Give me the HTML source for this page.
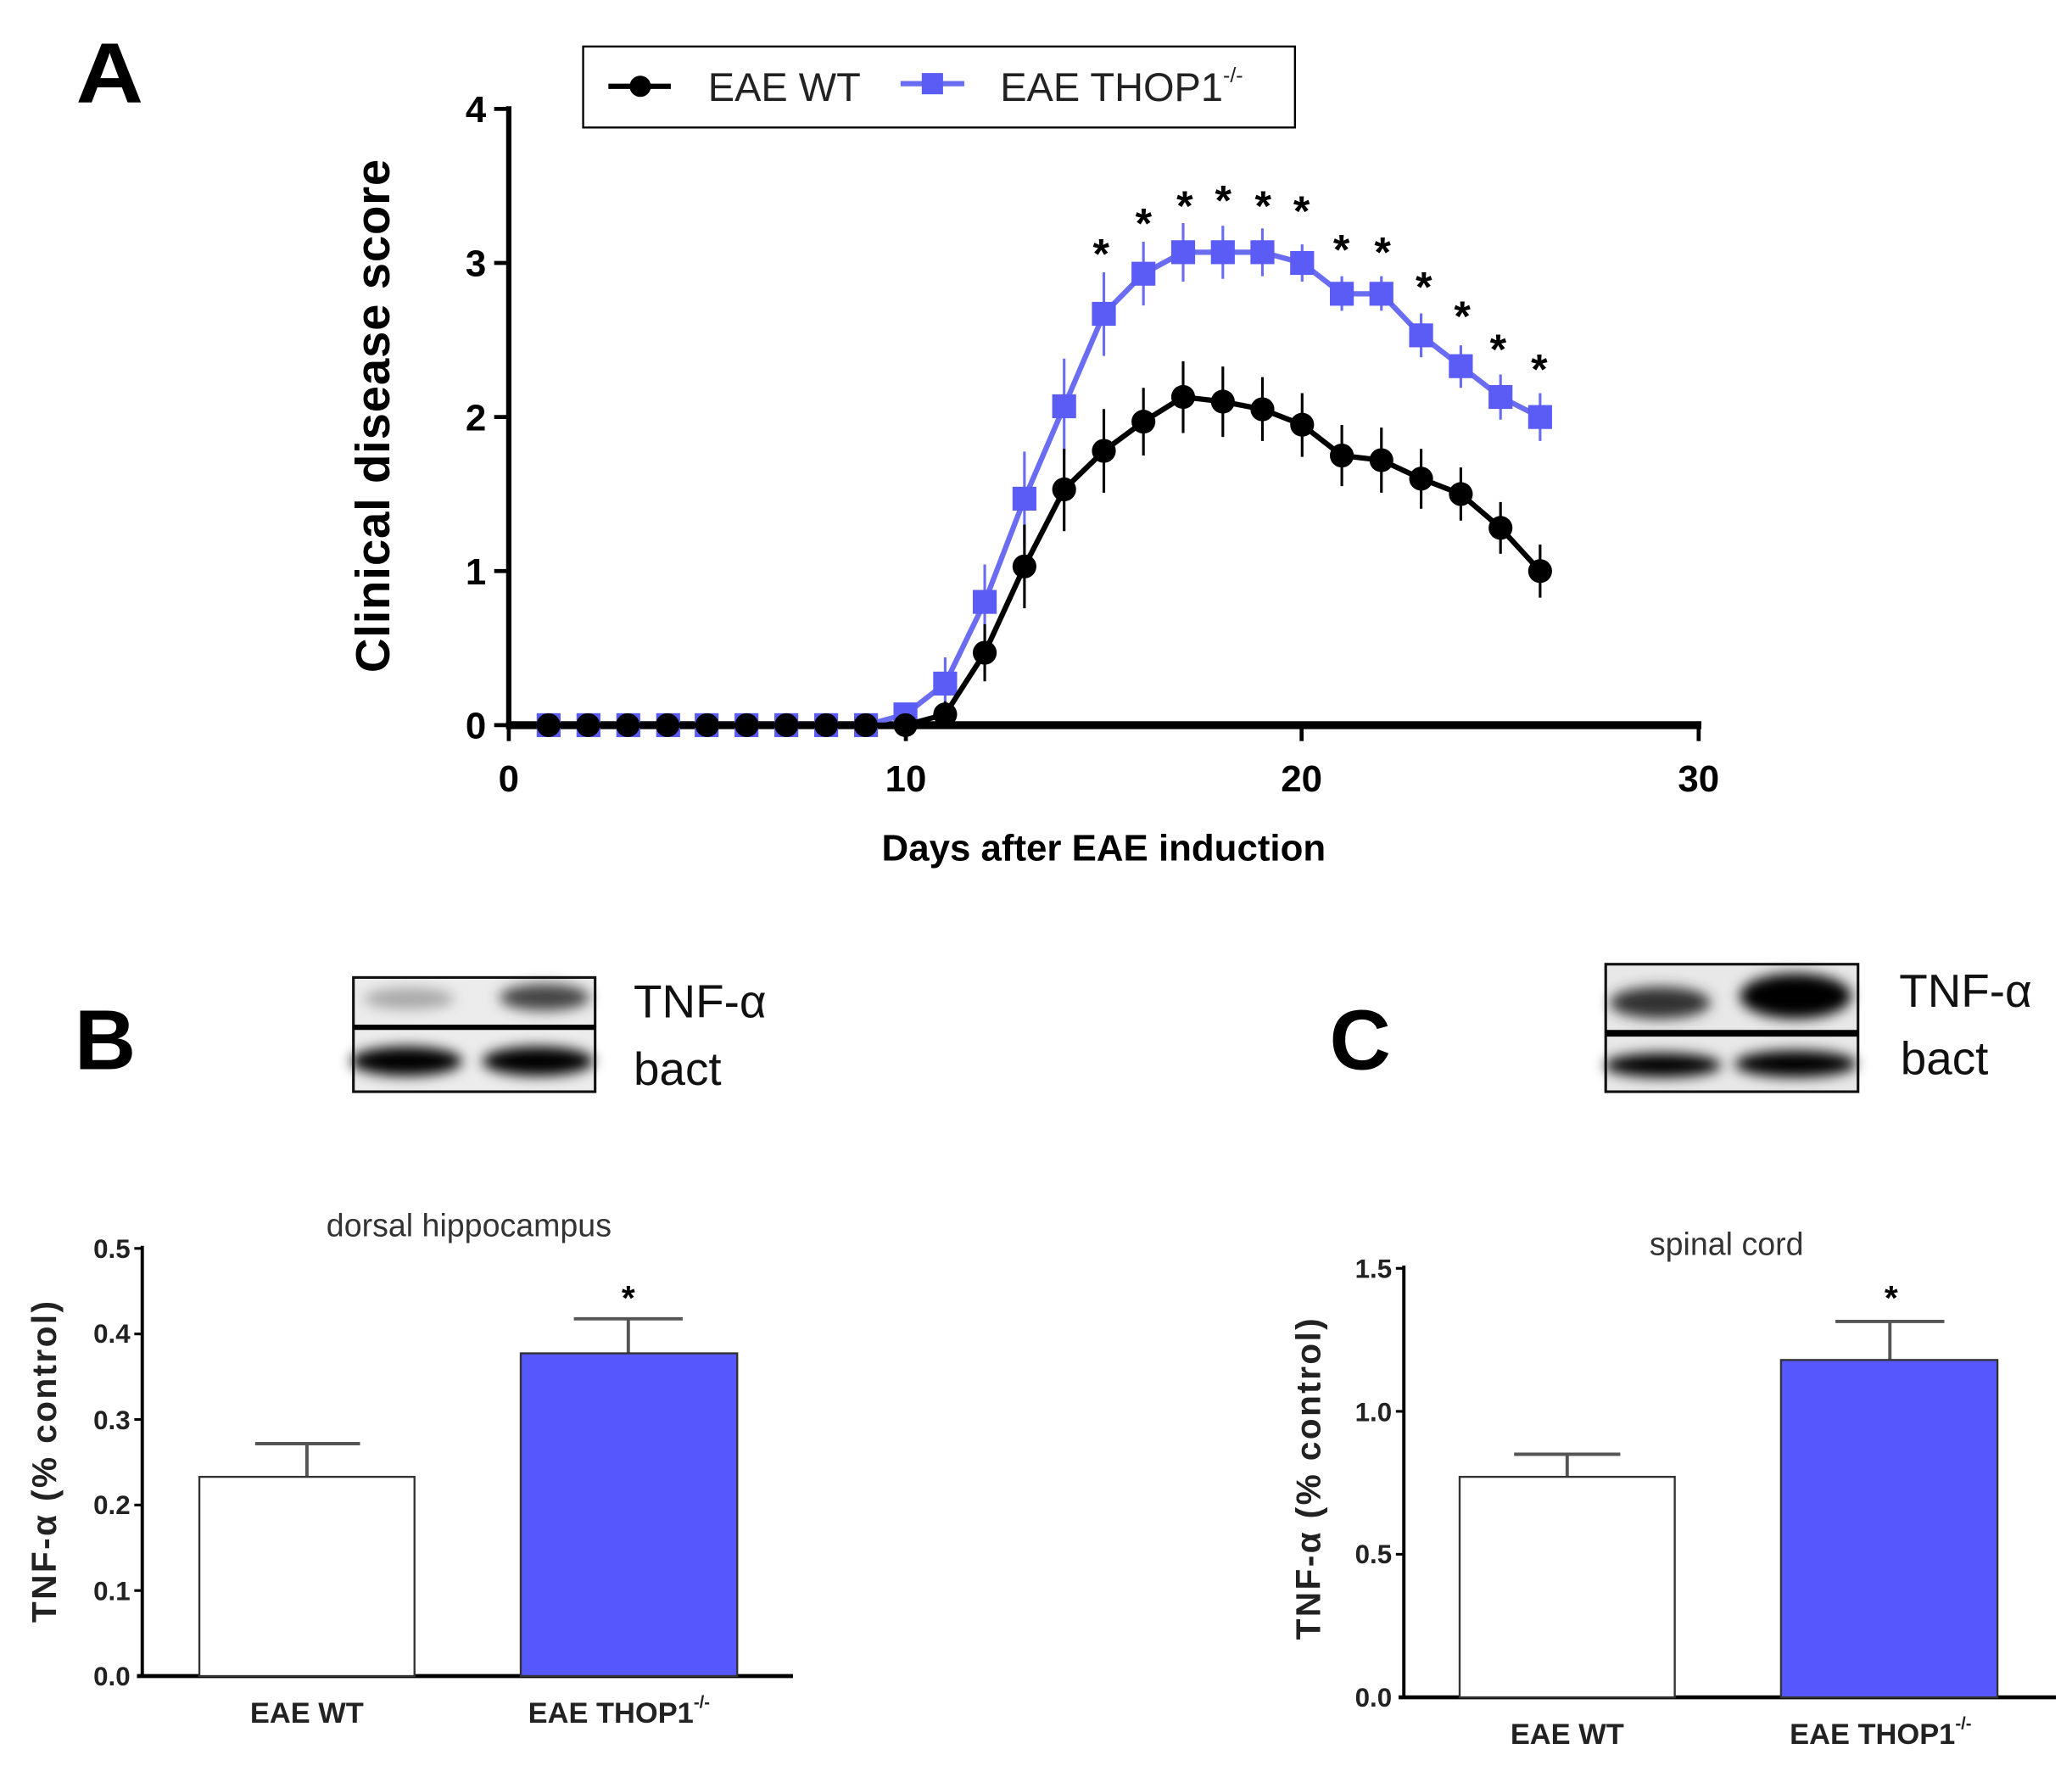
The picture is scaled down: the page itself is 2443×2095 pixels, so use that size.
<!DOCTYPE html>
<html><head><meta charset="utf-8"><style>
html,body{margin:0;padding:0;background:#fff}
svg{display:block}
text{font-family:"Liberation Sans",sans-serif}
</style></head><body>
<svg width="2443" height="2095" viewBox="0 0 1560 1338" xmlns="http://www.w3.org/2000/svg">
<defs>
<filter id="bl" x="-30%" y="-80%" width="160%" height="260%"><feGaussianBlur stdDeviation="5"/></filter>
</defs>
<rect width="1560" height="1338" fill="#fff"/>
<!-- Panel A -->
<text x="57" y="77" font-size="64" font-weight="bold" transform="translate(57 0) scale(1.1 1) translate(-57 0)">A</text>
<rect x="439" y="35" width="536" height="61" fill="#fff" stroke="#000" stroke-width="1.5"/>
<line x1="458" y1="65" x2="505" y2="65" stroke="#000" stroke-width="4"/>
<circle cx="482" cy="65" r="8" fill="#000"/>
<text x="533" y="76" font-size="30" fill="#222">EAE WT</text>
<line x1="678" y1="63" x2="726" y2="63" stroke="#6a6cf2" stroke-width="4"/>
<rect x="694" y="55" width="16" height="16" fill="#5a5cf5"/>
<text x="753" y="76" font-size="30" fill="#222">EAE THOP1<tspan font-size="16" dy="-14">-/-</tspan></text>

<line x1="383" y1="80" x2="383" y2="549" stroke="#000" stroke-width="4"/>
<line x1="381" y1="546" x2="1281" y2="546" stroke="#000" stroke-width="6"/>
<g stroke="#000" stroke-width="3">
<line x1="372" y1="82" x2="383" y2="82"/><line x1="372" y1="198" x2="383" y2="198"/><line x1="372" y1="314" x2="383" y2="314"/><line x1="372" y1="430" x2="383" y2="430"/><line x1="372" y1="546" x2="383" y2="546"/>
<line x1="383" y1="546" x2="383" y2="558"/><line x1="682" y1="546" x2="682" y2="558"/><line x1="980" y1="546" x2="980" y2="558"/><line x1="1279" y1="546" x2="1279" y2="558"/>
</g>
<g font-size="28" font-weight="bold" text-anchor="end">
<text x="366" y="92">4</text><text x="366" y="208">3</text><text x="366" y="324">2</text><text x="366" y="440">1</text><text x="366" y="556">0</text>
</g>
<g font-size="28" font-weight="bold" text-anchor="middle">
<text x="383" y="596">0</text><text x="682" y="596">10</text><text x="980" y="596">20</text><text x="1279" y="596">30</text>
</g>
<text x="831" y="648" font-size="28" font-weight="bold" text-anchor="middle">Days after EAE induction</text>
<text transform="translate(293 313) rotate(-90)" font-size="36" font-weight="bold" text-anchor="middle" letter-spacing="0.5">Clinical disease score</text>

<g stroke="#6a6cf2" stroke-width="2">
<path d="M681.7 530V546M711.6 495V534M741.4 425V481M771.3 340V411M801.2 270V342M831.1 205V268M860.9 182V230M890.8 168V212M920.7 170V210M950.5 172V208M980.4 184V212M1010.3 208V234M1040.1 208V234M1070 236V269M1099.9 260V292M1129.8 282V316M1159.6 296V332"/>
</g>
<polyline fill="none" stroke="#6a6cf2" stroke-width="4" points="412.9,546 442.7,546 472.6,546 502.5,546 532.4,546 562.2,546 592.1,546 622,546 651.8,546 681.7,537.9 711.6,514.7 741.4,453.2 771.3,375.5 801.2,305.9 831.1,236.3 860.9,206.1 890.8,189.9 920.7,189.9 950.5,189.9 980.4,198 1010.3,221.2 1040.1,221.2 1070,252.5 1099.9,275.7 1129.8,298.9 1159.6,314"/>
<g fill="#5a5cf5">
<rect x="404" y="537" width="18" height="18"/><rect x="434" y="537" width="18" height="18"/><rect x="464" y="537" width="18" height="18"/><rect x="494" y="537" width="18" height="18"/><rect x="523" y="537" width="18" height="18"/><rect x="553" y="537" width="18" height="18"/><rect x="583" y="537" width="18" height="18"/><rect x="613" y="537" width="18" height="18"/><rect x="643" y="537" width="18" height="18"/>
<rect x="672.7" y="528.9" width="18" height="18"/><rect x="702.6" y="505.7" width="18" height="18"/><rect x="732.4" y="444.2" width="18" height="18"/><rect x="762.3" y="366.5" width="18" height="18"/><rect x="792.2" y="296.9" width="18" height="18"/><rect x="822.1" y="227.3" width="18" height="18"/><rect x="851.9" y="197.1" width="18" height="18"/><rect x="881.8" y="180.9" width="18" height="18"/><rect x="911.7" y="180.9" width="18" height="18"/><rect x="941.5" y="180.9" width="18" height="18"/><rect x="971.4" y="189" width="18" height="18"/><rect x="1001.3" y="212.2" width="18" height="18"/><rect x="1031.1" y="212.2" width="18" height="18"/><rect x="1061" y="243.5" width="18" height="18"/><rect x="1090.9" y="266.7" width="18" height="18"/><rect x="1120.8" y="289.9" width="18" height="18"/><rect x="1150.6" y="305" width="18" height="18"/>
</g>
<g stroke="#000" stroke-width="2">
<path d="M711.6 528V548M741.4 470V513M771.3 395V458M801.2 338V400M831.1 308V371M860.9 292V343M890.8 272V326M920.7 276V329M950.5 284V332M980.4 296V344M1010.3 320V366M1040.1 322V371M1070 338V383M1099.9 352V392M1129.8 378V417M1159.6 410V450"/>
</g>
<polyline fill="none" stroke="#000" stroke-width="4" points="412.9,546 442.7,546 472.6,546 502.5,546 532.4,546 562.2,546 592.1,546 622,546 651.8,546 681.7,546 711.6,537.9 741.4,491.5 771.3,426.5 801.2,368.5 831.1,339.5 860.9,317.5 890.8,298.9 920.7,302.4 950.5,308.2 980.4,319.8 1010.3,343 1040.1,346.5 1070,360.4 1099.9,372 1129.8,397.5 1159.6,430"/>
<g fill="#000">
<circle cx="412.9" cy="546" r="9"/><circle cx="442.7" cy="546" r="9"/><circle cx="472.6" cy="546" r="9"/><circle cx="502.5" cy="546" r="9"/><circle cx="532.4" cy="546" r="9"/><circle cx="562.2" cy="546" r="9"/><circle cx="592.1" cy="546" r="9"/><circle cx="622" cy="546" r="9"/><circle cx="651.8" cy="546" r="9"/><circle cx="681.7" cy="546" r="9"/>
<circle cx="711.6" cy="537.9" r="9"/><circle cx="741.4" cy="491.5" r="9"/><circle cx="771.3" cy="426.5" r="9"/><circle cx="801.2" cy="368.5" r="9"/><circle cx="831.1" cy="339.5" r="9"/><circle cx="860.9" cy="317.5" r="9"/><circle cx="890.8" cy="298.9" r="9"/><circle cx="920.7" cy="302.4" r="9"/><circle cx="950.5" cy="308.2" r="9"/><circle cx="980.4" cy="319.8" r="9"/><circle cx="1010.3" cy="343" r="9"/><circle cx="1040.1" cy="346.5" r="9"/><circle cx="1070" cy="360.4" r="9"/><circle cx="1099.9" cy="372" r="9"/><circle cx="1129.8" cy="397.5" r="9"/><circle cx="1159.6" cy="430" r="9"/>
</g>
<g font-size="32" font-weight="bold" text-anchor="middle">
<text x="829" y="202">*</text><text x="861" y="179">*</text><text x="892" y="166">*</text><text x="921" y="162">*</text><text x="951" y="166">*</text><text x="980" y="170">*</text><text x="1010" y="199">*</text><text x="1041" y="201">*</text><text x="1072" y="227">*</text><text x="1101" y="249">*</text><text x="1128" y="274">*</text><text x="1159" y="289">*</text>
</g>

<!-- Panel B -->
<text x="56" y="805" font-size="64" font-weight="bold">B</text>
<g>
<rect x="266" y="736" width="182" height="86" fill="#ececec"/>
<g filter="url(#bl)">
<ellipse cx="308" cy="752" rx="34" ry="8" fill="#a8a8a8"/>
<ellipse cx="410" cy="751" rx="34" ry="10" fill="#444"/>
<ellipse cx="306" cy="799" rx="42" ry="11" fill="#000"/>
<ellipse cx="405" cy="799" rx="42" ry="11" fill="#000"/>
</g>
<rect x="266" y="736" width="182" height="86" fill="none" stroke="#111" stroke-width="2"/>
<line x1="266" y1="773.5" x2="448" y2="773.5" stroke="#000" stroke-width="4"/>
</g>
<text x="477" y="766" font-size="35" fill="#111">TNF-α</text>
<text x="477" y="817" font-size="35" fill="#111">bact</text>

<text x="353" y="931" font-size="24" fill="#333" text-anchor="middle">dorsal hippocampus</text>
<line x1="107" y1="938" x2="107" y2="1263" stroke="#000" stroke-width="2.5"/>
<line x1="103" y1="1262" x2="597" y2="1262" stroke="#000" stroke-width="3"/>
<g stroke="#000" stroke-width="2"><line x1="101" y1="940" x2="107" y2="940"/><line x1="101" y1="1004.4" x2="107" y2="1004.4"/><line x1="101" y1="1068.8" x2="107" y2="1068.8"/><line x1="101" y1="1133.2" x2="107" y2="1133.2"/><line x1="101" y1="1197.6" x2="107" y2="1197.6"/></g>
<g font-size="20" font-weight="bold" text-anchor="end" fill="#222">
<text x="98" y="947">0.5</text><text x="98" y="1011">0.4</text><text x="98" y="1076">0.3</text><text x="98" y="1140">0.2</text><text x="98" y="1205">0.1</text><text x="98" y="1269">0.0</text>
</g>
<text transform="translate(42 1100) rotate(-90)" font-size="26" font-weight="bold" text-anchor="middle" fill="#222" letter-spacing="1.5">TNF-α (% control)</text>
<g stroke="#555" stroke-width="2.5"><line x1="231" y1="1112" x2="231" y2="1087"/><line x1="192" y1="1087" x2="271" y2="1087"/><line x1="473" y1="1019" x2="473" y2="993"/><line x1="432" y1="993" x2="514" y2="993"/></g>
<rect x="150" y="1112" width="162" height="150" fill="#fff" stroke="#333" stroke-width="1.5"/>
<rect x="392" y="1019" width="163" height="243" fill="#5657fd" stroke="#333" stroke-width="1.5"/>
<text x="473" y="986" font-size="26" font-weight="bold" text-anchor="middle">*</text>
<text x="231" y="1297" font-size="22" font-weight="bold" text-anchor="middle" fill="#222">EAE WT</text>
<text x="466" y="1297" font-size="22" font-weight="bold" text-anchor="middle" fill="#222">EAE THOP1<tspan font-size="13" dy="-11">-/-</tspan></text>

<!-- Panel C -->
<text x="1001" y="805" font-size="64" font-weight="bold">C</text>
<g>
<rect x="1209" y="726" width="190" height="96" fill="#e8e8e8"/>
<g filter="url(#bl)">
<ellipse cx="1250" cy="755" rx="38" ry="12" fill="#333"/>
<ellipse cx="1352" cy="750" rx="42" ry="17" fill="#000"/>
<ellipse cx="1252" cy="802" rx="44" ry="9" fill="#000"/>
<ellipse cx="1352" cy="801" rx="46" ry="10" fill="#000"/>
</g>
<rect x="1209" y="726" width="190" height="96" fill="none" stroke="#111" stroke-width="2"/>
<line x1="1209" y1="778" x2="1399" y2="778" stroke="#000" stroke-width="5"/>
</g>
<text x="1430" y="758" font-size="35" fill="#111">TNF-α</text>
<text x="1431" y="809" font-size="35" fill="#111">bact</text>

<text x="1300" y="945" font-size="24" fill="#333" text-anchor="middle">spinal cord</text>
<line x1="1057" y1="953" x2="1057" y2="1279" stroke="#000" stroke-width="2.5"/>
<line x1="1053" y1="1278" x2="1548" y2="1278" stroke="#000" stroke-width="3"/>
<g stroke="#000" stroke-width="2"><line x1="1051" y1="955" x2="1057" y2="955"/><line x1="1051" y1="1062.7" x2="1057" y2="1062.7"/><line x1="1051" y1="1170.3" x2="1057" y2="1170.3"/></g>
<g font-size="20" font-weight="bold" text-anchor="end" fill="#222">
<text x="1048" y="962">1.5</text><text x="1048" y="1070">1.0</text><text x="1048" y="1177">0.5</text><text x="1048" y="1285">0.0</text>
</g>
<text transform="translate(994 1113) rotate(-90)" font-size="26" font-weight="bold" text-anchor="middle" fill="#222" letter-spacing="1.5">TNF-α (% control)</text>
<g stroke="#555" stroke-width="2.5"><line x1="1180" y1="1112" x2="1180" y2="1095"/><line x1="1140" y1="1095" x2="1220" y2="1095"/><line x1="1423" y1="1024" x2="1423" y2="995"/><line x1="1382" y1="995" x2="1464" y2="995"/></g>
<rect x="1099" y="1112" width="162" height="166" fill="#fff" stroke="#333" stroke-width="1.5"/>
<rect x="1341" y="1024" width="163" height="254" fill="#5657fd" stroke="#333" stroke-width="1.5"/>
<text x="1424" y="986" font-size="26" font-weight="bold" text-anchor="middle">*</text>
<text x="1180" y="1313" font-size="22" font-weight="bold" text-anchor="middle" fill="#222">EAE WT</text>
<text x="1416" y="1313" font-size="22" font-weight="bold" text-anchor="middle" fill="#222">EAE THOP1<tspan font-size="13" dy="-11">-/-</tspan></text>
</svg>
</body></html>
